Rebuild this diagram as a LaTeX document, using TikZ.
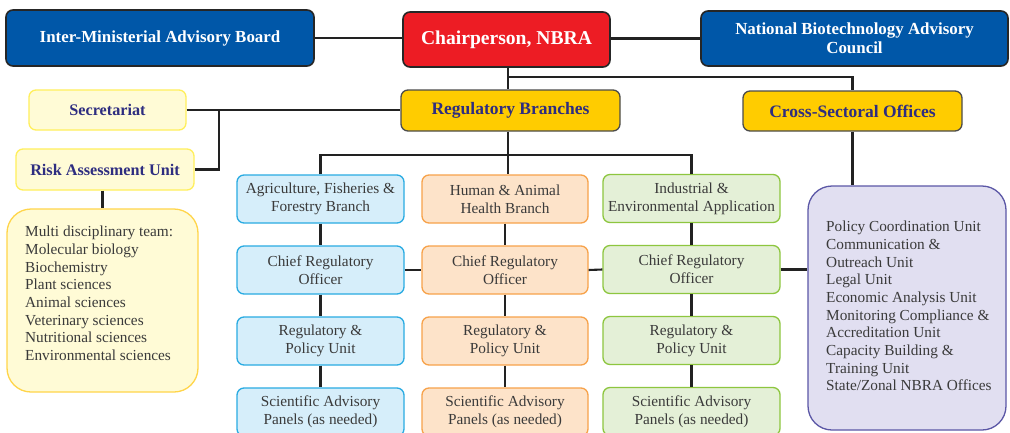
\documentclass[tikz,border=0pt]{standalone}
\usepackage{fontspec}
\setmainfont{Liberation Serif}
\definecolor{topblue}{HTML}{0057A8}
\definecolor{topred}{HTML}{ED1C24}
\definecolor{gold}{HTML}{FFCC00}
\definecolor{lyfill}{HTML}{FFFBD6}
\definecolor{lyline}{HTML}{FFEF5C}
\definecolor{myline}{HTML}{FFD54A}
\definecolor{c1fill}{HTML}{D6EEFA}
\definecolor{c1line}{HTML}{29ABE2}
\definecolor{c2fill}{HTML}{FDE3C9}
\definecolor{c2line}{HTML}{F7A24A}
\definecolor{c3fill}{HTML}{E4F0D7}
\definecolor{c3line}{HTML}{8DC63F}
\definecolor{pfill}{HTML}{E1DFF1}
\definecolor{pline}{HTML}{5B57A6}
\definecolor{navy}{HTML}{2E2D80}
\definecolor{txtgray}{HTML}{3A3A3A}
\definecolor{conn}{HTML}{222222}
\tikzset{
  basebox/.style={rounded corners=7pt, line width=1.3pt, align=center, inner sep=0pt},
  topbox/.style={basebox, draw=black!85, line width=1.6pt, text=white, font=\bfseries\fontsize{16.9}{19}\selectfont},
  goldbox/.style={basebox, fill=gold, draw=black!70, text=navy, font=\bfseries\fontsize{17.5}{19}\selectfont},
  ybox/.style={basebox, fill=lyfill, draw=lyline, text=navy, font=\bfseries\fontsize{16.2}{18}\selectfont},
  colbox/.style={basebox, text=txtgray, minimum height=48pt, font=\fontsize{15.3}{18}\selectfont},
  colA/.style={colbox, fill=c1fill, draw=c1line, minimum width=167pt},
  colB/.style={colbox, fill=c2fill, draw=c2line, minimum width=166pt},
  colC/.style={colbox, fill=c3fill, draw=c3line, minimum width=177pt},
  bigbox/.style={rounded corners=24pt, line width=1.3pt, inner sep=0pt},
  listtext/.style={align=left, anchor=north west, inner sep=0pt, text=txtgray, font=\fontsize{15.3}{17.65}\selectfont},
  conline/.style={draw=conn, line width=2.1pt},
}
\begin{document}
\begin{tikzpicture}[x=1pt,y=-1pt]
\clip (0,0) rectangle (1010,432);
\fill[white] (0,0) rectangle (1010,432);
% top row
\node[topbox, fill=topblue, minimum width=308pt, minimum height=56pt] (imab) at (160,38) {Inter-Ministerial Advisory Board};
\node[topbox, fill=topred, minimum width=207pt, minimum height=55pt, font=\bfseries\fontsize{19.6}{22}\selectfont] (chair) at (506.5,39.5) {Chairperson, NBRA};
\node[topbox, fill=topblue, minimum width=307pt, minimum height=55pt] (nbac) at (854.5,38.5) {National Biotechnology Advisory\\Council};
% second row
\node[ybox, minimum width=157pt, minimum height=40pt] (sec) at (107.5,110) {Secretariat};
\node[goldbox, minimum width=219pt, minimum height=41pt] (rb) at (510.5,110.5) {Regulatory Branches};
\node[goldbox, minimum width=219pt, minimum height=40pt] (cso) at (852.5,111) {Cross-Sectoral Offices};
\node[ybox, minimum width=178pt, minimum height=41pt] (rau) at (105,169.5) {Risk Assessment Unit};
% big boxes
\node[bigbox, fill=lyfill, draw=myline, minimum width=191pt, minimum height=183pt] (multi) at (102.5,300.5) {};
\node[listtext] (multitxt) at (25,226) {Multi disciplinary team:\\Molecular biology\\Biochemistry\\Plant sciences\\Animal sciences\\Veterinary sciences\\Nutritional sciences\\Environmental sciences};
\node[bigbox, fill=pfill, draw=pline, minimum width=198pt, minimum height=244pt] (cs) at (907,308) {};
\node[listtext] (cstxt) at (826,221) {Policy Coordination Unit\\Communication \&\\Outreach Unit\\Legal Unit\\Economic Analysis Unit\\Monitoring Compliance \&\\Accreditation Unit\\Capacity Building \&\\Training Unit\\State/Zonal NBRA Offices};
% columns
\node[colA] (a1) at (320.5,199) {Agriculture, Fisheries \&\\Forestry Branch};
\node[colA] (a2) at (320.5,270) {Chief Regulatory\\Officer};
\node[colA] (a3) at (320.5,341) {Regulatory \&\\Policy Unit};
\node[colA] (a4) at (320.5,412) {Scientific Advisory\\Panels (as needed)};
\node[colB] (b1) at (505,199) {Human \& Animal\\Health Branch};
\node[colB] (b2) at (505,270) {Chief Regulatory\\Officer};
\node[colB] (b3) at (505,341) {Regulatory \&\\Policy Unit};
\node[colB] (b4) at (505,412) {Scientific Advisory\\Panels (as needed)};
\node[colC] (c1) at (691.5,198.5) {Industrial \&\\Environmental Application};
\node[colC] (c2) at (691.5,269.5) {Chief Regulatory\\Officer};
\node[colC] (c3) at (691.5,340.5) {Regulatory \&\\Policy Unit};
\node[colC] (c4) at (691.5,411.5) {Scientific Advisory\\Panels (as needed)};
% connectors
\coordinate (jtop) at (508,77);
\coordinate (jsec) at (219,111);
\coordinate (jbus) at (508,155);
\path[conline] (imab.east) -- (imab.east -| chair.west);
\path[conline] (chair.east |- nbac.west) -- (nbac.west);
\path[conline] (chair.south -| jtop) -- (jtop |- rb.north);
\path[conline] (jtop) -| (cso.north);
\path[conline] (sec.east) -- (sec.east -| rb.west);
\path[conline] (jsec) |- (rau.east);
\path[conline] (rau.south -| multi.north) -- (multi.north);
\path[conline] (rb.south -| jbus) -- (jbus);
\path[conline] (a1.north) |- (jbus) -| (c1.north);
\path[conline] (jbus) -- (jbus |- b1.north);
\path[conline] (a1) -- (a2); \path[conline] (a2) -- (a3); \path[conline] (a3) -- (a4);
\path[conline] (b1) -- (b2); \path[conline] (b2) -- (b3); \path[conline] (b3) -- (b4);
\path[conline] (c1) -- (c2); \path[conline] (c2) -- (c3); \path[conline] (c3) -- (c4);
\path[conline] (a2.east) -- (b2.west);
\path[conline] (b2.east) -- (c2.west);
\path[conline] (c2.east) -- (c2.east -| cs.west);
\path[conline] (cso.south) -- (cso.south |- cs.north);
\end{tikzpicture}
\end{document}
